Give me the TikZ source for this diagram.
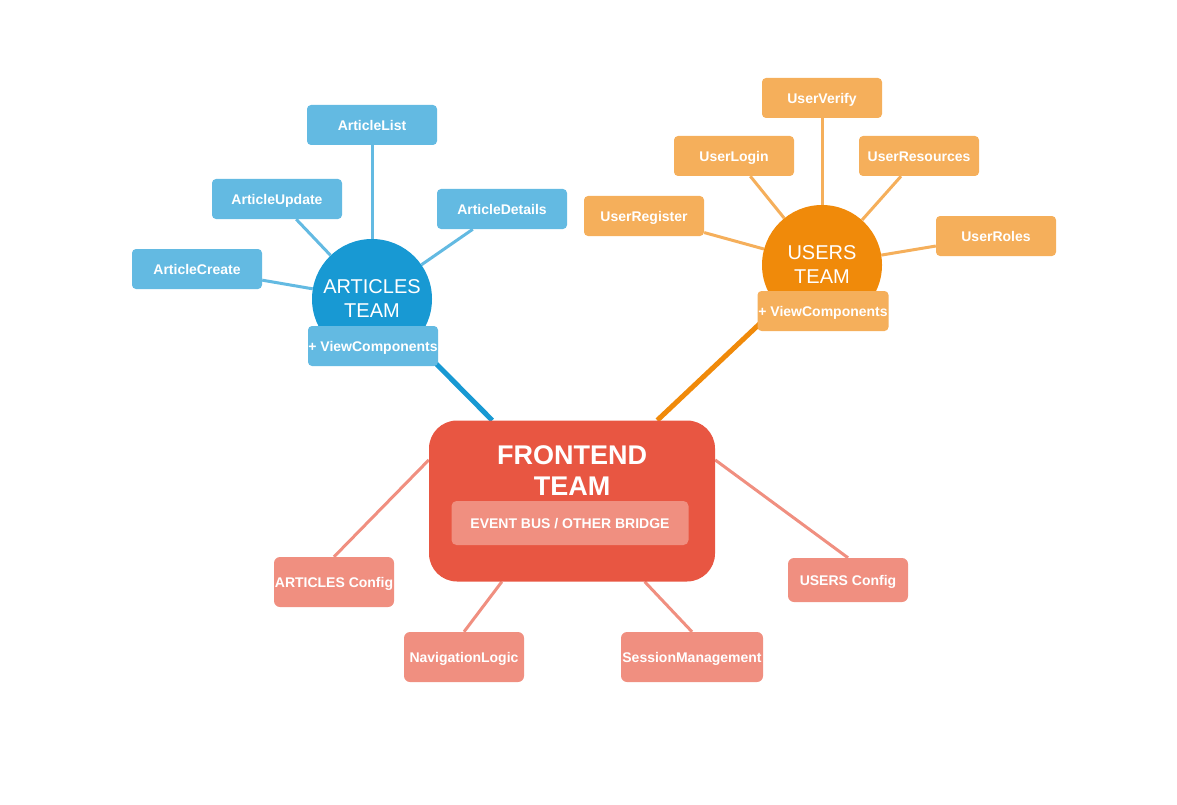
\documentclass[tikz,border=0pt]{standalone}
\usepackage{fontspec}
\setmainfont{Liberation Sans}
\usetikzlibrary{positioning,backgrounds}

\definecolor{artdark}{RGB}{24,153,211}
\definecolor{artlight}{RGB}{99,186,226}
\definecolor{usrdark}{RGB}{240,138,10}
\definecolor{usrlight}{RGB}{245,175,91}
\definecolor{frontdark}{RGB}{232,86,66}
\definecolor{frontlight}{RGB}{240,143,128}

\tikzstyle{teamcircle} = [circle, minimum size=120pt, inner sep=0pt, text=white, align=center, font=\fontsize{20}{24}\selectfont]
\tikzstyle{leafblock} = [rectangle, rounded corners=4pt, minimum width=120pt, minimum height=40pt, inner sep=0pt, text height=12.5pt, text depth=1pt, text=white, font=\bfseries\fontsize{14}{16}\selectfont]
\tikzstyle{artblock} = [leafblock, fill=artlight, minimum width=130pt]
\tikzstyle{usrblock} = [leafblock, fill=usrlight]
\tikzstyle{cfgblock} = [leafblock, fill=frontlight, minimum height=50pt, rounded corners=6pt]
\tikzstyle{artline} = [artlight, line width=3pt]
\tikzstyle{usrline} = [usrlight, line width=3pt]
\tikzstyle{cfgline} = [frontlight, line width=3pt]

\begin{document}
\begin{tikzpicture}[x=1pt, y=-1pt, node distance=0pt]
\useasboundingbox (0,0) rectangle (1177,805);

%Team hubs
\node (artteam) [teamcircle, fill=artdark] at (372,299) {ARTICLES\\TEAM};
\node (usrteam) [teamcircle, fill=usrdark] at (822,265) {USERS\\TEAM};
\node (front) [rectangle, rounded corners=28pt, minimum width=286pt, minimum height=161pt, fill=frontdark] at (572,501) {};
\node (fronttitle) [right of=front, yshift=30pt, text=white, align=center, font=\bfseries\fontsize{27}{31}\selectfont] {FRONTEND\\TEAM};
\node (eventbus) [cfgblock, right of=front, xshift=-2pt, yshift=-22pt, minimum width=237pt, minimum height=44pt, rounded corners=5pt] {EVENT BUS / OTHER BRIDGE};

%Articles blocks
\node (artlist) [artblock, right of=artteam, yshift=174pt] {ArticleList};
\node (artupdate) [artblock, right of=artteam, xshift=-95pt, yshift=100pt] {ArticleUpdate};
\node (artdetails) [artblock, right of=artteam, xshift=130pt, yshift=90pt] {ArticleDetails};
\node (artcreate) [artblock, right of=artteam, xshift=-175pt, yshift=30pt] {ArticleCreate};
\node (artview) [artblock, right of=artteam, xshift=1pt, yshift=-47pt] {+ ViewComponents};

%Users blocks
\node (usrverify) [usrblock, right of=usrteam, yshift=167pt] {UserVerify};
\node (usrlogin) [usrblock, right of=usrteam, xshift=-88pt, yshift=109pt] {UserLogin};
\node (usrresources) [usrblock, right of=usrteam, xshift=97pt, yshift=109pt] {UserResources};
\node (usrregister) [usrblock, right of=usrteam, xshift=-178pt, yshift=49pt] {UserRegister};
\node (usrroles) [usrblock, right of=usrteam, xshift=174pt, yshift=29pt] {UserRoles};
\node (usrview) [usrblock, right of=usrteam, xshift=1pt, yshift=-46pt, minimum width=131pt] {+ ViewComponents};

%Frontend blocks
\node (artcfg) [cfgblock, right of=front, xshift=-238pt, yshift=-81pt] {ARTICLES Config};
\node (navlogic) [cfgblock, right of=front, xshift=-108pt, yshift=-156pt] {NavigationLogic};
\node (session) [cfgblock, right of=front, xshift=120pt, yshift=-156pt, minimum width=142pt] {SessionManagement};
\node (usrcfg) [cfgblock, right of=front, xshift=276pt, yshift=-79pt, minimum height=44pt] {USERS Config};

%Lines
\begin{scope}[on background layer]
\draw [artdark, line width=5pt] (artteam) -- (front);
\draw [usrdark, line width=5pt] (usrteam) -- (front);
\draw [artline] (artlist) -- (artteam);
\draw [artline] (artupdate) -- (artteam);
\draw [artline] (artdetails) -- (artteam);
\draw [artline] (artcreate) -- (artteam);
\draw [usrline] (usrverify) -- (usrteam);
\draw [usrline] (usrlogin) -- (usrteam);
\draw [usrline] (usrresources) -- (usrteam);
\draw [usrline] (usrregister) -- (usrteam);
\draw [usrline] (usrroles) -- (usrteam);
\draw [cfgline] (artcfg.north) -- (front.164);
\draw [cfgline] (usrcfg.north) -- (front.16);
\draw [cfgline] (navlogic.north) -- (front.229);
\draw [cfgline] (session.north) -- (front.312);
\end{scope}
\end{tikzpicture}
\end{document}
